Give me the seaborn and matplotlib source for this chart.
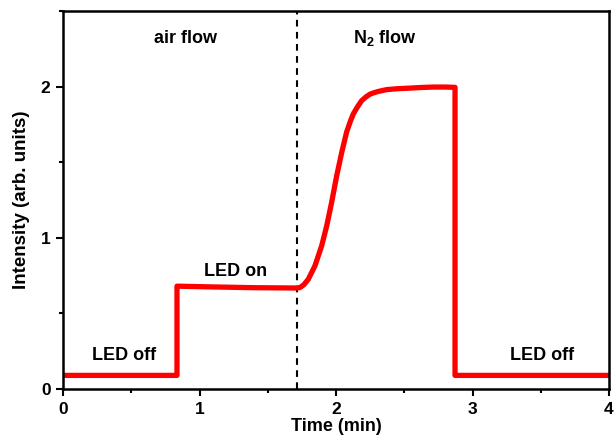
import matplotlib
matplotlib.use("Agg")
import matplotlib.pyplot as plt
from matplotlib.ticker import MultipleLocator
import seaborn as sns
import pandas as pd

# Photoluminescence trace: LED off -> LED on (air) -> N2 purge -> LED off
time_min = [0.00, 0.835, 0.835, 1.10, 1.40, 1.715, 1.736, 1.765, 1.797, 1.846,
            1.895, 1.932, 1.968, 2.005, 2.042, 2.078, 2.105, 2.127, 2.160,
            2.188, 2.220, 2.249, 2.273, 2.310, 2.371, 2.450, 2.542, 2.620,
            2.713, 2.800, 2.872, 2.872, 4.00]
intensity = [0.09, 0.09, 0.68, 0.675, 0.67, 0.668, 0.671, 0.690, 0.726, 0.815,
             0.947, 1.079, 1.234, 1.41, 1.565, 1.70, 1.770, 1.82, 1.870,
             1.907, 1.932, 1.950, 1.958, 1.968, 1.98, 1.986, 1.99, 1.994,
             1.997, 1.997, 1.995, 0.09, 0.09]

gas_switch_time = 1.715

annotations = [
    ("air flow", 0.894, 2.32),
    ("N$_\\mathbf{2}$ flow", 2.36, 2.32),
    ("LED on", 1.264, 0.78),
    ("LED off", 0.446, 0.22),
    ("LED off", 3.51, 0.22),
]

x_ticks = [0, 1, 2, 3, 4]
y_ticks = [0, 1, 2]

sns.set_theme(style="ticks")
plt.rcParams["font.family"] = ["Liberation Sans", "DejaVu Sans"]
plt.rcParams["font.weight"] = "bold"
plt.rcParams["mathtext.fontset"] = "custom"
plt.rcParams["mathtext.rm"] = "Liberation Sans:bold"
plt.rcParams["mathtext.bf"] = "Liberation Sans:bold"
plt.rcParams["mathtext.it"] = "Liberation Sans:bold"
for key in ["text.color", "axes.labelcolor", "xtick.color", "ytick.color",
            "axes.edgecolor"]:
    plt.rcParams[key] = "black"

fig = plt.figure(figsize=(6.16, 4.43), dpi=100)
ax = fig.add_axes([63 / 616, 1 - 389 / 443, (609 - 63) / 616, (389 - 11) / 443])

df = pd.DataFrame({"Time (min)": time_min, "Intensity": intensity})
sns.lineplot(data=df, x="Time (min)", y="Intensity", sort=False, estimator=None,
             color="#ff0000", linewidth=3.8, ax=ax, solid_joinstyle="round",
             solid_capstyle="butt")

ax.axvline(gas_switch_time, color="black", linestyle=(0, (3.2, 2.6)),
           linewidth=1.5, zorder=1)

for text, tx, ty in annotations:
    ax.text(tx, ty, text, ha="center", va="center", fontsize=13,
            fontweight="bold", color="black")

ax.set_xlim(0, 4)
ax.set_ylim(0, 2.5)
ax.set_xticks(x_ticks)
ax.set_yticks(y_ticks)
ax.xaxis.set_minor_locator(MultipleLocator(0.5))
ax.yaxis.set_minor_locator(MultipleLocator(0.5))
ax.tick_params(axis="both", which="major", direction="out", length=5, width=1.5,
               labelsize=12.5, pad=4, top=False, right=False, colors="black")
ax.tick_params(axis="both", which="minor", direction="out", length=3, width=1.5,
               top=False, right=False, colors="black")
for lbl in ax.get_xticklabels() + ax.get_yticklabels():
    lbl.set_fontweight("bold")

ax.set_xlabel("Time (min)", fontsize=13, fontweight="bold", labelpad=1,
              color="black")
ax.set_ylabel("Intensity (arb. units)", fontsize=13.5, fontweight="bold",
              labelpad=8, color="black")

for side in ["left", "right", "top", "bottom"]:
    ax.spines[side].set_visible(True)
    ax.spines[side].set_linewidth(1.8)
    ax.spines[side].set_color("black")

fig.savefig("out.png", dpi=100)
